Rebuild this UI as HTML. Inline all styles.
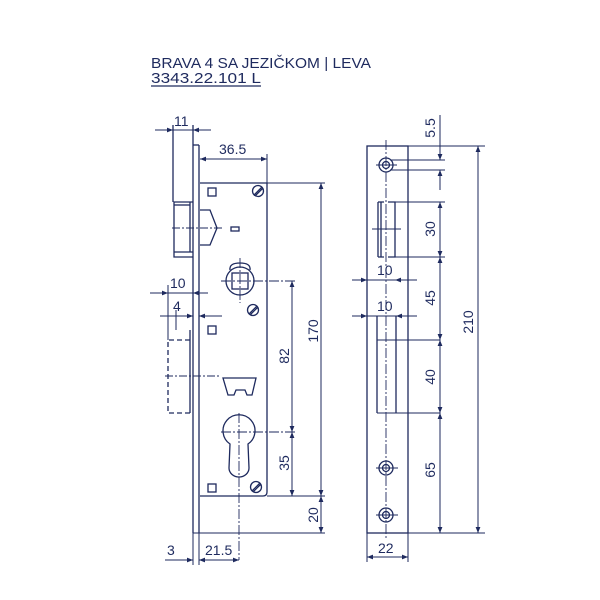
<!DOCTYPE html>
<html><head><meta charset="utf-8"><style>
html,body{margin:0;padding:0;background:#fff;}
svg{display:block;}
text{font-family:"Liberation Sans",sans-serif;fill:#1e2a5e;}
</style></head><body>
<svg width="600" height="600" viewBox="0 0 600 600" xmlns="http://www.w3.org/2000/svg">
<defs>
<marker id="a" viewBox="0 0 10 10" refX="10" refY="5" markerWidth="9" markerHeight="6" orient="auto-start-reverse" markerUnits="userSpaceOnUse"><path d="M0,1 L10,5 L0,9 z" fill="#1e2a5e"/></marker>
</defs>
<text x="151" y="68" font-size="15" textLength="220" lengthAdjust="spacingAndGlyphs">BRAVA 4 SA JEZIČKOM | LEVA</text>
<text x="151" y="83" font-size="15" textLength="110" lengthAdjust="spacingAndGlyphs">3343.22.101 L</text>
<line x1="151" y1="86" x2="261" y2="86" stroke="#1e2a5e" stroke-width="1.2"/>

<g stroke="#1e2a5e" stroke-width="1.3" fill="none">
<line x1="193" y1="125" x2="193" y2="533"/>
<line x1="199" y1="145" x2="199" y2="533"/>
<line x1="193" y1="145" x2="199" y2="145"/>
<line x1="173" y1="125" x2="173" y2="202"/>
<path d="M200,183 H267 V492 Q267,496 263,496 H200"/>
<line x1="193" y1="533" x2="325" y2="533" stroke-width="1"/>
<line x1="267" y1="183" x2="325" y2="183" stroke-width="1"/>
<line x1="267" y1="496" x2="325" y2="496" stroke-width="1"/>
<line x1="267" y1="154" x2="267" y2="183" stroke-width="1"/>
<path d="M193,202 H174 V257 H193"/>
<line x1="190" y1="202" x2="190" y2="252"/>
<line x1="174" y1="205" x2="190" y2="205"/>
<line x1="174" y1="252" x2="193" y2="252"/>
<path d="M200,210 H210 L217,228 L210,245 H200"/>
<line x1="172" y1="228" x2="222" y2="228" stroke-dasharray="8,2,2,2" stroke-width="0.9"/>
<rect x="208" y="188" width="8" height="8"/>
<rect x="231" y="227" width="8" height="4"/>
<rect x="208" y="326" width="8" height="8"/>
<rect x="208" y="484" width="8" height="8"/>
<circle cx="258" cy="191" r="5.5"/><line x1="254" y1="195" x2="262" y2="187"/><line x1="255" y1="196" x2="263" y2="188"/>
<circle cx="253" cy="310" r="5.5"/><line x1="249" y1="314" x2="257" y2="306"/><line x1="250" y1="315" x2="258" y2="307"/>
<circle cx="256" cy="487" r="5.5"/><line x1="252" y1="491" x2="260" y2="483"/><line x1="253" y1="492" x2="261" y2="484"/>
<circle cx="240" cy="281" r="14"/>
<path d="M230,270 Q229,263 240,263 Q251,263 250,270"/>
<rect x="232" y="273" width="16" height="16"/>
<line x1="240" y1="258" x2="240" y2="303" stroke-width="0.9" stroke-dasharray="10,2,2,2"/>
<line x1="221" y1="281" x2="295" y2="281" stroke-width="0.9" stroke-dasharray="10,2,2,2"/>
<path d="M190,340 H168 V413 H190" stroke-dasharray="5,3"/>
<line x1="190" y1="330" x2="190" y2="413"/>
<line x1="168" y1="285" x2="168" y2="340" stroke-width="1"/>
<line x1="176" y1="310" x2="176" y2="330" stroke-width="1"/>
<line x1="165" y1="376" x2="220" y2="376" stroke-width="0.9" stroke-dasharray="8,2,2,2"/>
<path d="M223,378 H256 L252,395 H247 L245,390 H236 L234,395 H228 Z"/>
<path d="M230,444 A16,16 0 1 1 248,444 L249,468 A10,9 0 0 1 229,468 Z"/>
<line x1="239" y1="413" x2="239" y2="560" stroke-width="0.9" stroke-dasharray="10,2,2,2"/>
<line x1="221" y1="432" x2="295" y2="432" stroke-width="0.9" stroke-dasharray="10,2,2,2"/>
</g>

<g stroke="#1e2a5e" stroke-width="1" fill="none">
<line x1="155" y1="130" x2="173" y2="130" marker-end="url(#a)"/>
<line x1="211" y1="130" x2="193" y2="130" marker-end="url(#a)"/>
<line x1="173" y1="130" x2="193" y2="130"/>
<line x1="200" y1="159" x2="267" y2="159" marker-start="url(#a)" marker-end="url(#a)"/>
<line x1="321" y1="183" x2="321" y2="496" marker-start="url(#a)" marker-end="url(#a)"/>
<line x1="292" y1="281" x2="292" y2="432" marker-start="url(#a)" marker-end="url(#a)"/>
<line x1="292" y1="432" x2="292" y2="496" marker-start="url(#a)" marker-end="url(#a)"/>
<line x1="321" y1="496" x2="321" y2="533" marker-start="url(#a)" marker-end="url(#a)"/>
<line x1="150" y1="293" x2="168" y2="293" marker-end="url(#a)"/>
<line x1="168" y1="293" x2="193" y2="293"/>
<line x1="208" y1="293" x2="193" y2="293" marker-end="url(#a)"/>
<line x1="160" y1="316" x2="176" y2="316"/>
<line x1="176" y1="316" x2="193" y2="316" marker-end="url(#a)"/>
<line x1="222" y1="316" x2="199" y2="316" marker-end="url(#a)"/>
<line x1="165" y1="560" x2="193" y2="560" marker-end="url(#a)"/>
<line x1="199" y1="560" x2="239" y2="560" marker-start="url(#a)" marker-end="url(#a)"/>
<line x1="193" y1="533" x2="193" y2="565"/>
<line x1="199" y1="533" x2="199" y2="565"/>
</g>
<g font-size="14">
<text x="174" y="126">11</text>
<text x="219" y="154">36.5</text>
<text x="170" y="288">10</text>
<text x="173" y="311">4</text>
<text x="167" y="555">3</text>
<text x="205" y="555">21.5</text>
<text transform="translate(318,331) rotate(-90)" text-anchor="middle">170</text>
<text transform="translate(289,356) rotate(-90)" text-anchor="middle">82</text>
<text transform="translate(289,463) rotate(-90)" text-anchor="middle">35</text>
<text transform="translate(318,515) rotate(-90)" text-anchor="middle">20</text>
</g>

<g stroke="#1e2a5e" stroke-width="1.3" fill="none">
<rect x="367" y="146" width="41" height="387"/>
<line x1="386" y1="140" x2="386" y2="540" stroke-width="0.9" stroke-dasharray="10,2,2,2"/>
<circle cx="386" cy="165" r="7"/><circle cx="386" cy="165" r="3.5"/>
<circle cx="386" cy="468" r="7"/><circle cx="386" cy="468" r="3.5"/>
<circle cx="386" cy="515" r="7"/><circle cx="386" cy="515" r="3.5"/>
<line x1="376" y1="165" x2="397" y2="165" stroke-width="0.9"/>
<line x1="376" y1="468" x2="398" y2="468" stroke-width="0.9"/>
<line x1="376" y1="515" x2="398" y2="515" stroke-width="0.9"/>
<path d="M378,202 V257 M378,202 H384 M388,202 H395 V257 H388 M384,257 H378 M381,202 V257"/>
<line x1="372" y1="229" x2="401" y2="229" stroke-width="0.9"/>
<line x1="377" y1="316" x2="377" y2="413"/>
<line x1="396" y1="316" x2="396" y2="413"/>
<line x1="377" y1="413" x2="440" y2="413" stroke-width="1"/>
<line x1="377" y1="340" x2="440" y2="340" stroke-width="1"/>
</g>
<g stroke="#1e2a5e" stroke-width="1" fill="none">
<line x1="408" y1="146" x2="485" y2="146"/>
<line x1="408" y1="533" x2="485" y2="533"/>
<line x1="390" y1="160" x2="445" y2="160"/>
<line x1="390" y1="170" x2="445" y2="170"/>
<line x1="395" y1="202" x2="445" y2="202"/>
<line x1="395" y1="257" x2="445" y2="257"/>
<line x1="440" y1="115" x2="440" y2="160" marker-end="url(#a)"/>
<line x1="440" y1="190" x2="440" y2="170" marker-end="url(#a)"/>
<line x1="440" y1="202" x2="440" y2="257" marker-start="url(#a)" marker-end="url(#a)"/>
<line x1="440" y1="257" x2="440" y2="340" marker-start="url(#a)" marker-end="url(#a)"/>
<line x1="440" y1="340" x2="440" y2="413" marker-start="url(#a)" marker-end="url(#a)"/>
<line x1="440" y1="413" x2="440" y2="533" marker-start="url(#a)" marker-end="url(#a)"/>
<line x1="478" y1="146" x2="478" y2="533" marker-start="url(#a)" marker-end="url(#a)"/>
<line x1="352" y1="280" x2="367" y2="280" marker-end="url(#a)"/>
<line x1="367" y1="280" x2="395" y2="280"/>
<line x1="417" y1="280" x2="395" y2="280" marker-end="url(#a)"/>
<line x1="352" y1="316" x2="367" y2="316" marker-end="url(#a)"/>
<line x1="367" y1="316" x2="396" y2="316"/>
<line x1="417" y1="316" x2="396" y2="316" marker-end="url(#a)"/>
<line x1="367" y1="533" x2="367" y2="562"/>
<line x1="408" y1="533" x2="408" y2="562"/>
<line x1="367" y1="557" x2="408" y2="557" marker-start="url(#a)" marker-end="url(#a)"/>
</g>
<g font-size="14">
<text x="377" y="275">10</text>
<text x="377" y="311">10</text>
<text x="378" y="553">22</text>
<text transform="translate(435,128) rotate(-90)" text-anchor="middle">5.5</text>
<text transform="translate(435,229) rotate(-90)" text-anchor="middle">30</text>
<text transform="translate(435,298) rotate(-90)" text-anchor="middle">45</text>
<text transform="translate(435,377) rotate(-90)" text-anchor="middle">40</text>
<text transform="translate(435,470) rotate(-90)" text-anchor="middle">65</text>
<text transform="translate(473,322) rotate(-90)" text-anchor="middle">210</text>
</g>
</svg>
</body></html>
